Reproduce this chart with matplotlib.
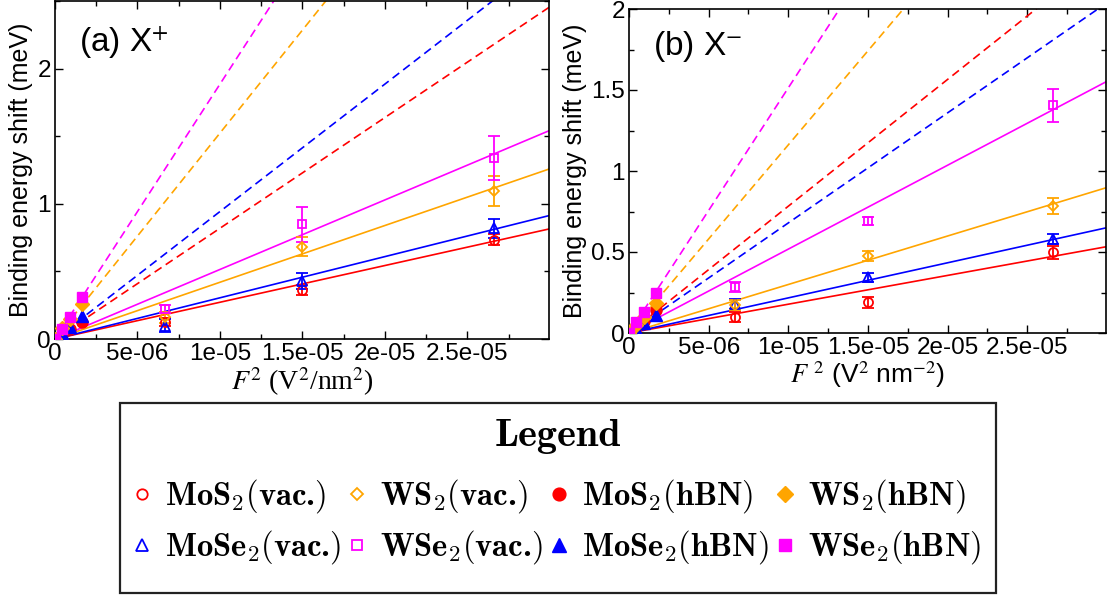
import matplotlib
matplotlib.use("Agg")
import matplotlib.pyplot as plt
from matplotlib.patches import Rectangle
from matplotlib.ticker import MultipleLocator, FormatStrFormatter

plt.rcParams['font.family'] = ['Liberation Sans', 'DejaVu Sans']
plt.rcParams['mathtext.fontset'] = 'cm'

# ---------------- data ----------------
materials = ['MoS2', 'MoSe2', 'WS2', 'WSe2']
colors = {'MoS2': '#ff0000', 'MoSe2': '#0000ff', 'WS2': '#ffa500', 'WSe2': '#ff00ff'}
markers = {'MoS2': 'o', 'MoSe2': '^', 'WS2': 'D', 'WSe2': 's'}
label_names = {'MoS2': r'MoS$_2$', 'MoSe2': r'MoSe$_2$', 'WS2': r'WS$_2$', 'WSe2': r'WSe$_2$'}

# squared field strength F^2 (V^2/nm^2)
f2_vac = [6.66e-6, 1.50e-5, 2.66e-5]
f2_hbn = [0.0, 4.16e-7, 9.36e-7, 1.664e-6]
f2_fit = [0.0, 3.0e-5]

# (a) X+ : binding-energy shift (meV)
xp_vac = {'MoS2': [0.123, 0.363, 0.733],
          'MoSe2': [0.099, 0.430, 0.820],
          'WS2': [0.160, 0.684, 1.094],
          'WSe2': [0.222, 0.847, 1.338]}
xp_vac_err = {'MoS2': [0.03, 0.04, 0.04],
              'MoSe2': [0.05, 0.06, 0.07],
              'WS2': [0.04, 0.07, 0.11],
              'WSe2': [0.03, 0.13, 0.16]}
xp_hbn = {'MoS2': [0.0, 0.040, 0.075, 0.125],
          'MoSe2': [0.0, 0.045, 0.090, 0.170],
          'WS2': [0.0, 0.080, 0.150, 0.260],
          'WSe2': [0.0, 0.075, 0.165, 0.310]}
# slopes of linear fits through the origin (meV per V^2/nm^2)
xp_slope_vac = {'MoS2': 27170, 'MoSe2': 30470, 'WS2': 41970, 'WSe2': 51430}
xp_slope_hbn = {'MoS2': 81900, 'MoSe2': 94270, 'WS2': 152300, 'WSe2': 188500}

# (b) X- : binding-energy shift (meV)
xm_vac = {'MoS2': [0.098, 0.190, 0.498],
          'MoSe2': [0.180, 0.343, 0.580],
          'WS2': [0.174, 0.476, 0.784],
          'WSe2': [0.283, 0.690, 1.405]}
xm_vac_err = {'MoS2': [0.03, 0.035, 0.04],
              'MoSe2': [0.03, 0.03, 0.03],
              'WS2': [0.03, 0.03, 0.05],
              'WSe2': [0.03, 0.025, 0.10]}
xm_hbn = {'MoS2': [0.0, 0.040, 0.076, 0.142],
          'MoSe2': [0.0, 0.025, 0.060, 0.110],
          'WS2': [0.0, 0.050, 0.100, 0.185],
          'WSe2': [0.0, 0.066, 0.128, 0.245]}
xm_slope_vac = {'MoS2': 17770, 'MoSe2': 21670, 'WS2': 29930, 'WSe2': 51770}
xm_slope_hbn = {'MoS2': 78250, 'MoSe2': 67930, 'WS2': 116100, 'WSe2': 151300}

# ---------------- figure ----------------
W, H = 1114, 597
fig = plt.figure(figsize=(W / 100, H / 100), dpi=100)


def px_axes(x0, y0, x1, y1):
    return fig.add_axes([x0 / W, 1 - y1 / H, (x1 - x0) / W, (y1 - y0) / H])


ax_a = px_axes(55, 1, 549, 339)
ax_b = px_axes(629, 9, 1106, 333)

LW = 1.2
MS = {'o': 6.5, '^': 7.0, 'D': 5.5, 's': 6.0}
handles = {}


def draw_panel(ax, vac, vac_err, hbn, slope_vac, slope_hbn):
    for m in materials:
        c = colors[m]
        mk = markers[m]
        ax.plot(f2_fit, [s * slope_vac[m] for s in f2_fit], color=c, lw=LW, zorder=2)
        ax.plot(f2_fit, [s * slope_hbn[m] for s in f2_fit], color=c, lw=LW,
                dashes=(5, 3), zorder=2)
        ax.errorbar(f2_vac, vac[m], yerr=vac_err[m], fmt='none', ecolor=c,
                    elinewidth=1.3, capsize=4, capthick=1.3, zorder=3)
        hv, = ax.plot(f2_vac, vac[m], ls='none', marker=mk, ms=MS[mk],
                      mfc='none', mec=c, mew=1.3, zorder=4)
        hh, = ax.plot(f2_hbn, hbn[m], ls='none', marker=mk, ms=MS[mk] + 1.5,
                      mfc=c, mec=c, mew=1.0, zorder=4)
        handles[(m, 'vac')] = hv
        handles[(m, 'hbn')] = hh
    ax.set_xlim(0, 2.995e-5)
    ax.xaxis.set_major_locator(MultipleLocator(5e-6))
    ax.xaxis.set_minor_locator(MultipleLocator(2.5e-6))
    ax.xaxis.set_major_formatter(FormatStrFormatter('%g'))
    ax.yaxis.set_major_formatter(FormatStrFormatter('%g'))
    ax.tick_params(which='both', direction='in', top=True, right=True,
                   labelsize=17.5, width=1.0)
    ax.tick_params(which='major', length=6, pad=3)
    ax.tick_params(which='minor', length=3.5)
    for sp in ax.spines.values():
        sp.set_linewidth(1.2)
    ax.set_ylabel('Binding energy shift (meV)', fontsize=18, labelpad=3)


draw_panel(ax_a, xp_vac, xp_vac_err, xp_hbn, xp_slope_vac, xp_slope_hbn)
ax_a.set_ylim(0, 2.5)
ax_a.yaxis.set_major_locator(MultipleLocator(1))
ax_a.yaxis.set_minor_locator(MultipleLocator(0.5))
ax_a.set_xlabel(r'$F^2$ (V$^2$/nm$^2$)', family='Liberation Serif',
                math_fontfamily='stix', fontsize=20, labelpad=0)
ax_a.text(0.049, 0.849, r'(a) X$^{+}$', transform=ax_a.transAxes, fontsize=24,
          va='baseline', ha='left', math_fontfamily='stixsans')

draw_panel(ax_b, xm_vac, xm_vac_err, xm_hbn, xm_slope_vac, xm_slope_hbn)
ax_b.set_ylim(0, 2.0)
ax_b.yaxis.set_major_locator(MultipleLocator(0.5))
ax_b.yaxis.set_minor_locator(MultipleLocator(0.25))
ax_b.set_xlabel(r'$F^{\ 2}$ (V$^2$ nm$^{-2}$)', fontsize=19,
                math_fontfamily='stix', labelpad=0)
ax_b.text(0.05, 0.858, r'(b) X$^{-}$', transform=ax_b.transAxes, fontsize=24,
          va='baseline', ha='left', math_fontfamily='stixsans')

# ---------------- legend ----------------
# framed box with a title, entries in four columns (filled column by column)
fig.add_artist(Rectangle((120 / W, 1 - 593 / H), 876 / W, 190 / H,
                         transform=fig.transFigure, fill=False,
                         edgecolor='#222222', lw=1.6))
fig.text(558 / W, 1 - 436 / H, 'Legend', family='cmb10', fontsize=29,
         ha='center', va='center')

order = [('MoS2', 'vac'), ('MoSe2', 'vac'), ('WS2', 'vac'), ('WSe2', 'vac'),
         ('MoS2', 'hbn'), ('MoSe2', 'hbn'), ('WS2', 'hbn'), ('WSe2', 'hbn')]
env = {'vac': 'vac.', 'hbn': 'hBN'}
leg_h = [handles[k] for k in order]
leg_l = [r'%s$\mathrm{(}$%s$\mathrm{)}$' % (label_names[m], env[e]) for m, e in order]

leg = fig.legend(leg_h, leg_l, loc='center', bbox_to_anchor=(555 / W, 1 - 522 / H),
                 ncol=4, prop={'family': 'cmb10', 'size': 23.5},
                 frameon=False, borderpad=0.2, labelspacing=0.4,
                 handlelength=0.8, handletextpad=0.3, columnspacing=0.1,
                 markerscale=1.15, borderaxespad=0.0)

fig.savefig('out.png', dpi=100)
